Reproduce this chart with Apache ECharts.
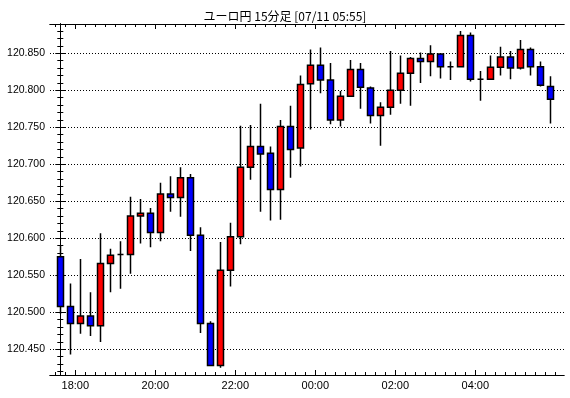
<!DOCTYPE html>
<html>
<head>
<meta charset="utf-8">
<script src="https://cdn.jsdelivr.net/npm/echarts@6/dist/echarts.min.js"></script>
<style>
  html, body { margin: 0; padding: 0; background: #fff; }
  #main { width: 570px; height: 398px; }
</style>
</head>
<body>
<div id="main"></div>
<script>
// 15-minute candles, 17:30 .. 05:45
var times = ['17:30', '17:45', '18:00', '18:15', '18:30', '18:45', '19:00', '19:15', '19:30', '19:45',
  '20:00', '20:15', '20:30', '20:45', '21:00', '21:15', '21:30', '21:45', '22:00', '22:15',
  '22:30', '22:45', '23:00', '23:15', '23:30', '23:45', '00:00', '00:15', '00:30', '00:45',
  '01:00', '01:15', '01:30', '01:45', '02:00', '02:15', '02:30', '02:45', '03:00', '03:15',
  '03:30', '03:45', '04:00', '04:15', '04:30', '04:45', '05:00', '05:15', '05:30', '05:45'];

var open = [120.575, 120.508, 120.485, 120.495, 120.482, 120.566, 120.578, 120.578, 120.630, 120.634,
  120.608, 120.660, 120.655, 120.682, 120.604, 120.485, 120.428, 120.557, 120.602, 120.696,
  120.724, 120.715, 120.666, 120.751, 120.722, 120.809, 120.834, 120.814, 120.760, 120.792,
  120.828, 120.803, 120.766, 120.777, 120.800, 120.823, 120.843, 120.839, 120.849, 120.832,
  120.832, 120.874, 120.815, 120.815, 120.831, 120.845, 120.830, 120.855, 120.832, 120.805];
var close = [120.508, 120.485, 120.495, 120.482, 120.566, 120.577, 120.578, 120.630, 120.634, 120.608,
  120.660, 120.655, 120.682, 120.604, 120.485, 120.428, 120.557, 120.602, 120.696, 120.724,
  120.714, 120.666, 120.751, 120.720, 120.808, 120.834, 120.814, 120.760, 120.792, 120.828,
  120.804, 120.766, 120.777, 120.800, 120.823, 120.843, 120.839, 120.849, 120.832, 120.832,
  120.874, 120.815, 120.815, 120.831, 120.845, 120.830, 120.855, 120.832, 120.807, 120.788];
var low = [120.498, 120.443, 120.471, 120.468, 120.460, 120.527, 120.532, 120.552, 120.593, 120.588,
  120.596, 120.636, 120.629, 120.583, 120.472, 120.427, 120.425, 120.535, 120.592, 120.679,
  120.636, 120.624, 120.625, 120.682, 120.697, 120.747, 120.796, 120.754, 120.751, 120.792,
  120.775, 120.755, 120.725, 120.767, 120.782, 120.779, 120.810, 120.819, 120.816, 120.814,
  120.832, 120.812, 120.786, 120.814, 120.820, 120.815, 120.828, 120.820, 120.805, 120.755];
var high = [120.591, 120.539, 120.572, 120.527, 120.607, 120.586, 120.596, 120.656, 120.653, 120.641,
  120.675, 120.684, 120.696, 120.687, 120.615, 120.488, 120.595, 120.621, 120.752, 120.753,
  120.782, 120.724, 120.760, 120.779, 120.820, 120.855, 120.858, 120.837, 120.799, 120.841,
  120.837, 120.805, 120.784, 120.853, 120.847, 120.845, 120.851, 120.861, 120.849, 120.839,
  120.880, 120.878, 120.826, 120.847, 120.859, 120.853, 120.868, 120.858, 120.839, 120.819];

var xLabels = ['18:00', '20:00', '22:00', '00:00', '02:00', '04:00'];
var yLabels = ['120.450', '120.500', '120.550', '120.600', '120.650', '120.700', '120.750', '120.800', '120.850'];

// x = candle index; ticks sit on the boundary before each labelled candle
var xMajor = xLabels.map(function (t) { return times.indexOf(t) - 0.5; });
var xMinor = [];
for (var i = -1; i <= times.length; i++) xMinor.push(i + 0.5);
var yMajor = yLabels.map(Number);
var yMinor = [];
for (var k = 42; k <= 88; k++) yMinor.push(+(120 + k / 100).toFixed(2));

var candles = times.map(function (t, i) {
  return [i, open[i], close[i], low[i], high[i]];
});

var xMin = -1.03, xMax = 50.37;
var yMin = 120.4153, yMax = 120.8896;
var font = 'Liberation Sans';

function xAxisDef(pos, ticks, len, labels) {
  return {
    type: 'value', position: pos, min: xMin, max: xMax,
    axisLine: { show: true, onZero: false, lineStyle: { color: '#000', width: 1 } },
    axisTick: { show: true, inside: true, length: len, customValues: ticks, lineStyle: { color: '#000' } },
    axisLabel: labels ? {
      show: true, customValues: ticks, margin: 5, color: '#000', fontSize: 11, fontFamily: font,
      formatter: function (v) { return xLabels[xMajor.indexOf(v)] || ''; }
    } : { show: false },
    splitLine: { show: false }
  };
}

function yAxisDef(pos, ticks, len, labels, split) {
  return {
    type: 'value', position: pos, min: yMin, max: yMax, scale: true,
    axisLine: { show: true, lineStyle: { color: '#000', width: 1 } },
    axisTick: { show: true, inside: true, length: len, customValues: ticks, lineStyle: { color: '#000' } },
    axisLabel: labels ? {
      show: true, customValues: ticks, margin: 5, color: '#000', fontSize: 10.5, fontFamily: font,
      formatter: function (v) { return v.toFixed(3); }
    } : { show: false },
    splitLine: split ? { show: true, lineStyle: { color: '#000', width: 1, type: [1, 2] } } : { show: false }
  };
}

var myChart = echarts.init(document.getElementById('main'));

var option = {
  animation: false,
  backgroundColor: '#fff',
  title: {
    text: 'ユーロ円 15分足 [07/11 05:55]',
    left: 'center',
    top: 5,
    textStyle: { fontFamily: 'Noto Sans CJK JP', fontSize: 12, fontWeight: 'normal', color: '#000' }
  },
  grid: { left: 50, right: 6, top: 24, bottom: 23, outerBoundsMode: 'none' },
  xAxis: [
    xAxisDef('bottom', xMajor, 5, true),
    xAxisDef('bottom', xMinor, 3, false),
    xAxisDef('top', xMajor, 5, false),
    xAxisDef('top', xMinor, 3, false)
  ],
  yAxis: [
    yAxisDef('left', yMajor, 5, true, true),
    yAxisDef('left', yMinor, 3, false, false),
    yAxisDef('right', yMajor, 5, false, false),
    yAxisDef('right', yMinor, 3, false, false)
  ],
  series: [
    {
      type: 'candlestick',
      xAxisIndex: 0,
      yAxisIndex: 0,
      barWidth: 6,
      itemStyle: {
        color: '#ff0000',
        color0: '#0000ff',
        borderColor: '#000',
        borderColor0: '#000',
        borderColorDoji: '#000',
        borderWidth: 1.5
      },
      data: candles
    }
  ]
};

myChart.setOption(option);
</script>
</body>
</html>
